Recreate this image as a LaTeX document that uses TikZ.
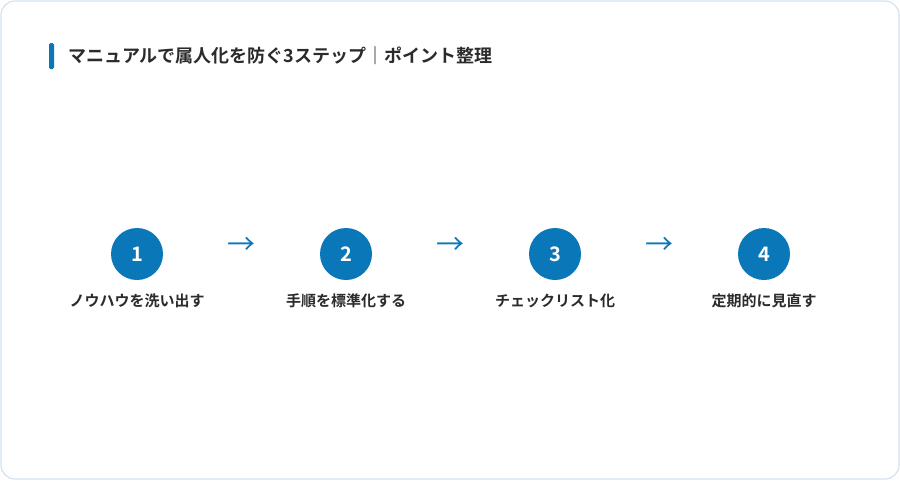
\documentclass[tikz,border=0pt]{standalone}
\usepackage{fontspec}
\setmainfont{Noto Sans CJK JP}
\newfontfamily\cjkb{Noto Sans CJK JP Bold}
\newfontfamily\numf[BoldFont=*]{Liberation Sans}
\definecolor{blu}{HTML}{0A77B8}
\definecolor{txt}{HTML}{2B2B2B}
\definecolor{bord}{HTML}{D5E3EF}
\begin{document}
\begin{tikzpicture}[x=1pt,y=-1pt,
  stepcirc/.style={circle,fill=blu,minimum size=52pt,inner sep=0pt,text=white,font=\cjkb\fontsize{20}{20}\selectfont},
  steplabel/.style={text=txt,font=\cjkb\fontsize{15}{15}\selectfont},
  arr/.style={text=blu,font=\fontsize{28}{28}\selectfont}]
\useasboundingbox (0,0) rectangle (900,480);
\draw[bord,line width=1.2pt,fill=white,rounded corners=14pt] (1,1) rectangle (899,479);
\fill[blu,rounded corners=1.5pt] (49,43) rectangle (54,69);
\node[anchor=west,text=txt,font=\cjkb\fontsize{18}{18}\selectfont] (title) at (65,56) {マニュアルで属人化を防ぐ3ステップ｜ポイント整理};
\foreach \i/\x/\t in {1/137/ノウハウを洗い出す,2/346/手順を標準化する,3/555/チェックリスト化,4/764/定期的に見直す}{
  \node[stepcirc] (c\i) at (\x,254) {\i};
  \node[steplabel] (l\i) at (\x,301) {\t};
}
\foreach \i/\x in {1/241,2/450,3/659}{
  \node[arr] (a\i) at (\x,246) {→};
}
\end{tikzpicture}
\end{document}
